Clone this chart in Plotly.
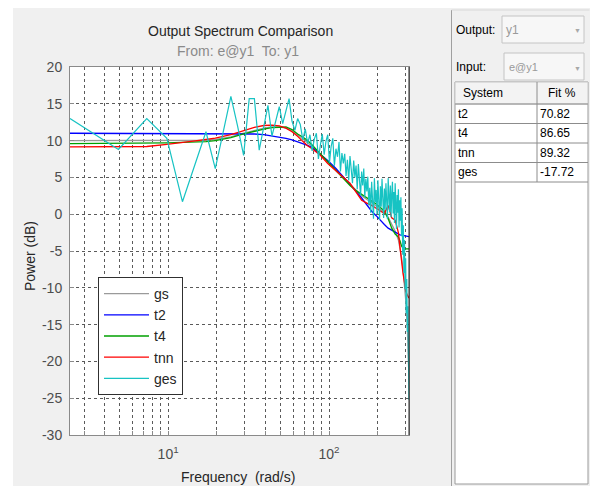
import numpy as np
import plotly.graph_objects as go

W, H = 590, 486

# ---------------- data ----------------
Ts = 0.01
N = 128
freq_ges = [k * np.pi / (N * Ts) for k in range(1, N + 1)]  # analysis grid (rad/s)

ges = [13.0, 8.8, 13.0, 10.3, 1.7, 6.7, 11.2, 6.2, 11.3, 16.0,
       12.0, 8.0, 15.7, 15.7, 8.7, 11.7, 14.8, 10.6, 12.6, 14.6,
       12.3, 14.0, 15.7, 12.6, 11.4, 13.0, 12.2, 10.1, 11.6, 9.6,
       10.8, 8.6, 10.2, 11.0, 7.5, 9.4, 10.9, 8.1, 9.9, 10.8,
       7.0, 9.2, 10.3, 6.6, 8.9, 7.8, 9.8, 5.8, 8.3, 6.9,
       8.2, 5.2, 7.4, 4.6, 7.9, 6.1, 4.2, 7.3, 5.0, 6.6,
       3.4, 6.8, 4.5, 2.5, 5.8, 3.9, 6.2, 2.3, 4.8, 3.1,
       5.1, 1.2, 3.6, 0.2, 4.4, 2.2, -0.6, 4.9, 1.6, 3.3,
       0.0, 4.6, 1.9, -0.8, 3.8, 1.0, 4.8, 2.4, -0.5, 3.5,
       0.6, 4.2, 1.8, -0.7, 4.9, 2.0, 0.3, 3.9, -0.4, 2.8,
       4.4, 0.1, 3.0, -1.2, 4.2, 1.5, -2.0, 2.6, 0.2, 3.4,
       -1.8, 1.9, -0.9, 2.3, -3.0, 0.8, -5.5, -1.5, -8.0, -3.5,
       -10.2, -6.0, -13.5, -8.8, -16.0, -12.5, -20.0, -25.2]

freq_model = [2.454, 4.909, 7.363, 9.817, 12.27, 14.73, 17.18, 19.63, 24.54, 29.45,
              34.36, 39.27, 44.18, 49.09, 54.0, 58.9, 63.8, 68.7, 73.6, 78.5,
              88.4, 98.2, 110.4, 122.7, 135.0, 147.3, 159.5, 171.8, 184.1, 196.3,
              208.6, 220.9, 233.1, 245.4, 257.7, 269.9, 276.1, 282.2, 288.4, 294.5,
              300.7, 306.8, 311.7, 314.2]

gs = [10.0, 10.0, 10.0, 10.0, 10.0, 10.0, 10.05, 10.15, 10.5, 11.0,
      11.4, 11.7, 11.85, 11.85, 11.7, 11.3, 10.8, 10.2, 9.7, 9.2,
      8.1, 7.1, 6.0, 5.0, 4.1, 3.2, 2.5, 2.0, 1.6, 1.1,
      0.6, 0.2, -0.4, -1.3, -2.3, -3.5, -4.5, -5.8, -7.5, -9.5,
      -12.0, -15.5, -19.5, -22.5]

t2 = [11.0, 11.0, 11.0, 11.0, 11.0, 11.0, 11.0, 11.0, 11.0, 10.95,
      10.9, 10.8, 10.65, 10.5, 10.3, 10.1, 9.85, 9.6, 9.35, 9.05,
      8.1, 7.3, 6.2, 5.1, 4.0, 3.1, 2.2, 1.2, 0.4, -0.2,
      -0.9, -1.4, -1.9, -2.2, -2.5, -2.7, -2.8, -2.85, -2.9, -2.95,
      -3.0, -3.0, -3.05, -3.05]

t4 = [9.6, 9.6, 9.6, 9.7, 9.75, 9.8, 9.85, 10.0, 10.4, 10.9,
      11.3, 11.55, 11.75, 11.85, 11.85, 11.5, 10.9, 10.5, 10.0, 9.4,
      8.2, 7.2, 6.0, 4.9, 3.9, 3.2, 2.7, 2.3, 1.9, 1.4,
      0.9, 0.4, -0.6, -1.9, -2.7, -3.1, -3.6, -4.3, -4.6, -4.7,
      -4.7, -4.7, -4.7, -4.7]

tnn = [9.15, 9.15, 9.2, 9.5, 9.7, 9.95, 10.15, 10.35, 10.8, 11.4,
       11.8, 12.05, 12.1, 12.0, 11.7, 11.2, 10.6, 9.9, 9.3, 8.9,
       8.0, 6.9, 5.9, 4.9, 4.2, 3.0, 1.9, 1.5, 1.2, 0.8,
       0.4, 0.1, 1.2, -0.5, -0.8, -2.5, -4.5, -6.6, -8.0, -9.3,
       -10.5, -11.0, -11.3, -11.4]

x_grid_vals = [3, 4, 5, 6, 7, 8, 9, 10, 20, 30, 40, 50, 60, 70, 80, 90, 100, 200, 300]
x_tick_text = ["", "", "", "", "", "", "", "10<sup>1</sup>", "", "", "", "", "", "", "", "",
               "10<sup>2</sup>", "", ""]
y_tick_vals = [-30, -25, -20, -15, -10, -5, 0, 5, 10, 15, 20]
y_tick_text = ["-30", "-25", "-20", "-15", "-10", "-5", "0", "5", "10", "15", "20"]

systems = ["t2", "t4", "tnn", "ges"]
fits = ["70.82", "86.65", "89.32", "-17.72"]

# ---------------- figure ----------------
FONT = "Liberation Sans, Arial, sans-serif"


def fx(x):
    return x / W


def fy(y):
    return 1 - y / H


fig = go.Figure()
series = [("gs", freq_model, gs, "#9a9a9a", 1.3),
          ("t2", freq_model, t2, "#0000ff", 1.3),
          ("t4", freq_model, t4, "#00a000", 1.3),
          ("tnn", freq_model, tnn, "#ff0000", 1.3),
          ("ges", freq_ges, ges, "#17c3c3", 1.2)]
for name, xs, ys, col, lw in series:
    fig.add_trace(go.Scatter(x=xs, y=ys, mode="lines", name=name,
                             line=dict(color=col, width=lw), hoverinfo="skip"))

PX0, PX1, PY0, PY1 = 70, 409, 67, 435

shapes = []
shapes.append(dict(type="rect", xref="paper", yref="paper", x0=0, x1=1, y0=fy(8), y1=1,
                   fillcolor="white", line=dict(width=0), layer="below"))
shapes.append(dict(type="rect", xref="paper", yref="paper", x0=0, x1=fx(13), y0=0, y1=1,
                   fillcolor="white", line=dict(width=0), layer="below"))
shapes.append(dict(type="line", xref="paper", yref="paper", x0=fx(451.5), x1=fx(451.5),
                   y0=0, y1=fy(10), line=dict(color="#a0a0a0", width=1)))
shapes.append(dict(type="line", xref="paper", yref="paper", x0=fx(451.5), x1=fx(589.5),
                   y0=fy(10), y1=fy(10), line=dict(color="#d8d8d8", width=1)))
for (bx0, by0, bx1, by1) in [(502, 16, 584, 43), (504, 53, 584, 80)]:
    shapes.append(dict(type="rect", xref="paper", yref="paper", x0=fx(bx0), x1=fx(bx1),
                       y0=fy(by1), y1=fy(by0), fillcolor="#f7f7f7",
                       line=dict(color="#c4c4c4", width=1)))
TX0, TX1, TCOL = 455, 588, 537
TY0, TYH, TY1 = 82, 104, 484
row_lines = [104, 123.5, 143, 162.5, 182]
shapes.append(dict(type="rect", xref="paper", yref="paper", x0=fx(TX0), x1=fx(TX1),
                   y0=fy(TY1), y1=fy(TY0), fillcolor="white",
                   line=dict(color="#9a9a9a", width=1)))
shapes.append(dict(type="rect", xref="paper", yref="paper", x0=fx(TX0), x1=fx(TX1),
                   y0=fy(TYH), y1=fy(TY0), fillcolor="#f3f3f3",
                   line=dict(color="#c8c8c8", width=1)))
for ry in row_lines:
    shapes.append(dict(type="line", xref="paper", yref="paper", x0=fx(TX0), x1=fx(TX1),
                       y0=fy(ry), y1=fy(ry), line=dict(color="#8c8c8c", width=1)))
shapes.append(dict(type="line", xref="paper", yref="paper", x0=fx(TCOL), x1=fx(TCOL),
                   y0=fy(row_lines[-1]), y1=fy(TY0), line=dict(color="#8c8c8c", width=1)))
shapes.append(dict(type="line", xref="paper", yref="paper", x0=fx(PX1), x1=fx(PX1),
                   y0=fy(PY1), y1=fy(PY0), line=dict(color="#202020", width=1)))


def text(t, x, y, size=14, color="#262626", xanchor="center", angle=0):
    return dict(text=t, x=fx(x), y=fy(y), xref="paper", yref="paper", showarrow=False,
                xanchor=xanchor, yanchor="middle", textangle=angle, borderpad=0,
                font=dict(family=FONT, size=size, color=color))


ann = [
    text("Output Spectrum Comparison", 240, 31),
    text("From: e@y1  To: y1", 238, 51, color="#8a8a8a"),
    text("Frequency  (rad/s)", 238, 477),
    text("Power (dB)", 30, 256, angle=-90),
    text("Output:", 455, 30, size=12, color="#000000", xanchor="left"),
    text("y1", 505, 30, size=12, color="#9a9a9a", xanchor="left"),
    text("Input:", 455, 67, size=12, color="#000000", xanchor="left"),
    text("e@y1", 508, 67, size=11, color="#9a9a9a", xanchor="left"),
    text("\u25bc", 577, 31, size=7, color="#a8a8a8"),
    text("\u25bc", 577, 68, size=7, color="#a8a8a8"),
    text("System", 462, 93, size=12, color="#000000", xanchor="left"),
    text("Fit %", 547, 93, size=12, color="#000000", xanchor="left"),
]
for i, (s, f) in enumerate(zip(systems, fits)):
    cy = (row_lines[i] + row_lines[i + 1]) / 2
    ann.append(text(s, 457, cy, size=12, color="#000000", xanchor="left"))
    ann.append(text(f, 539, cy, size=12, color="#000000", xanchor="left"))

GRID = "#5a5a5a"
fig.update_layout(
    width=W, height=H, autosize=False, margin=dict(l=0, r=0, t=0, b=0, pad=0),
    paper_bgcolor="#f0f0f0", plot_bgcolor="white",
    font=dict(family=FONT, size=14, color="#4d4d4d"),
    showlegend=True,
    legend=dict(x=fx(98), y=fy(277), xanchor="left", yanchor="top",
                bgcolor="white", bordercolor="#303030", borderwidth=1,
                font=dict(family=FONT, size=14, color="#262626"), itemwidth=45,
                traceorder="normal"),
    xaxis=dict(type="log", range=[np.log10(freq_ges[0]), np.log10(freq_ges[-1])],
               domain=[fx(PX0), fx(PX1)], tickmode="array", tickvals=x_grid_vals,
               ticktext=x_tick_text, showgrid=True, gridcolor=GRID, griddash="3px,3px",
               gridwidth=1, showline=True, linecolor="#8a8a8a", linewidth=1, mirror=True,
               ticks="inside", ticklen=4, tickcolor="#8a8a8a", zeroline=False,
               automargin=False,
               tickfont=dict(family=FONT, size=14, color="#4d4d4d"), ticklabelstandoff=6),
    yaxis=dict(range=[-30, 20], domain=[fy(PY1), fy(PY0)], tickmode="array",
               tickvals=y_tick_vals, ticktext=y_tick_text, showgrid=True, gridcolor=GRID,
               griddash="3px,3px", gridwidth=1, showline=True, linecolor="#8a8a8a",
               linewidth=1, mirror=True, ticks="inside", ticklen=4, tickcolor="#8a8a8a",
               zeroline=False, automargin=False,
               tickfont=dict(family=FONT, size=14, color="#4d4d4d"),
               ticklabelstandoff=4),
    shapes=shapes, annotations=ann,
)

fig.write_html("out.html", post_script="document.body.style.margin='0px';")
